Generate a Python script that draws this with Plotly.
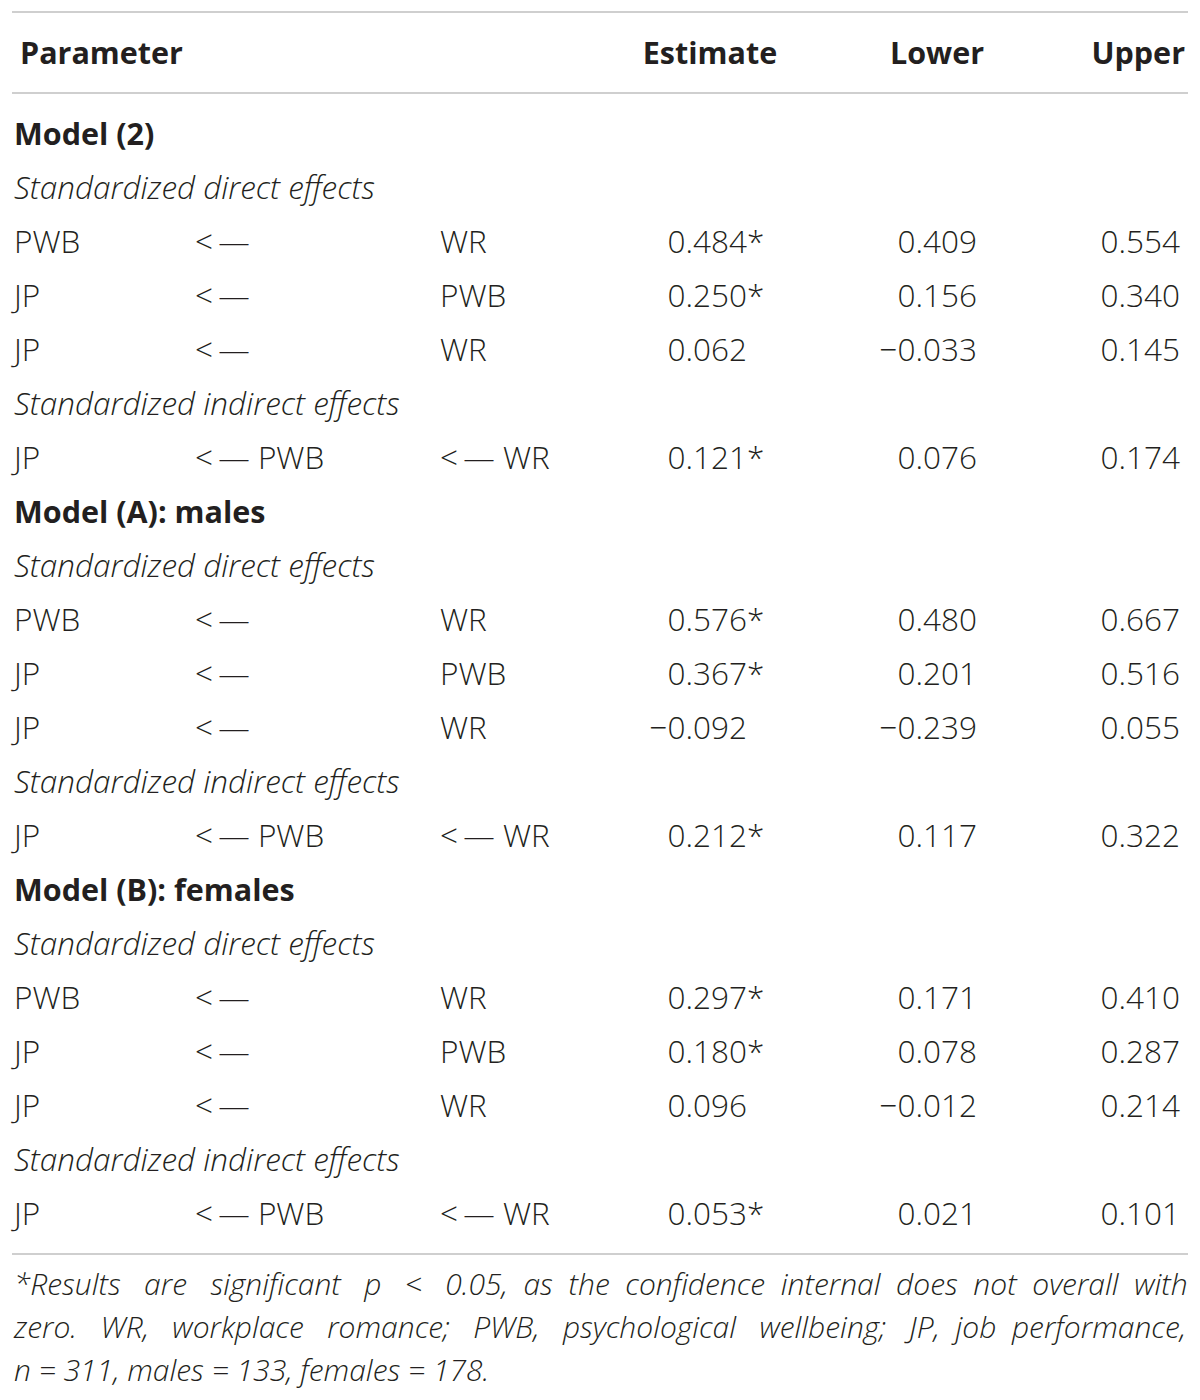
#!/usr/bin/env python3
"""
Table: standardized direct and indirect effects with confidence bounds
(Model 2, males, females), drawn as text marks on a pixel-sized axis.
"""

import plotly.graph_objects as go

# ---- table data ----
columns = ["Parameter", "Estimate", "Lower", "Upper"]
models = ["Model (2)", "Model (A): males", "Model (B): females"]
effect_types = ["Standardized direct effects", "Standardized indirect effects"]

# paths inside each model: outcome <- (via) <- predictor, and effect type index
outcome = ["PWB", "JP", "JP", "JP"]
via = ["", "", "", "PWB"]
predictor = ["WR", "PWB", "WR", "WR"]
path_type = [0, 0, 0, 1]

estimate = [
    [0.484, 0.250, 0.062, 0.121],
    [0.576, 0.367, -0.092, 0.212],
    [0.297, 0.180, 0.096, 0.053],
]
significant = [
    [True, True, False, True],
    [True, True, False, True],
    [True, True, False, True],
]
lower = [
    [0.409, 0.156, -0.033, 0.076],
    [0.480, 0.201, -0.239, 0.117],
    [0.171, 0.078, -0.012, 0.021],
]
upper = [
    [0.554, 0.340, 0.145, 0.174],
    [0.667, 0.516, 0.055, 0.322],
    [0.410, 0.287, 0.214, 0.101],
]

footnote = [
    "*Results are significant p < 0.05, as the confidence internal does not overall with",
    "zero. WR, workplace romance; PWB, psychological wellbeing; JP, job performance,",
    "n = 311, males = 133, females = 178.",
]
# extra spaces spread over each footnote line (justified paragraph)
footnote_pad = [18, 16, 0]

# ---- layout constants (pixels) ----
W, H = 1200, 1400
OFF = 8  # page body margin of the html file
FONT = "Open Sans, Liberation Sans, Arial, sans-serif"
INK = "#231f20"
RULE = "#cfcfcf"
BODY = 31.5
HEAD = 30.5
FOOT = 30
ROW0, STEP = 137, 54
X_PARAM, X_ARROW, X_PRED = 14, 195, 440
X_EST, X_LOW, X_UP = 747, 977, 1180


def fmt(v):
    s = f"{v:.3f}"
    return s.replace("-", "\u2212")


def justify(line, pad):
    words = line.split(" ")
    gaps = [" "] * (len(words) - 1)
    for k in range(pad):
        gaps[k % len(gaps)] += "\u00a0"
    out = words[0]
    for g, w in zip(gaps, words[1:]):
        out += g + w
    return out


# build rows
left_txt, left_y = [], []
bold_txt, bold_y = [], []
ital_txt, ital_y = [], []
arrow_txt, arrow_y = [], []
pred_txt, pred_y = [], []
est_txt, est_y, star_txt, star_y = [], [], [], []
low_txt, low_y, up_txt, up_y = [], [], [], []

ARROW = "<\u2009\u2014"
row = 0
for m, model in enumerate(models):
    bold_txt.append(model)
    bold_y.append(ROW0 + STEP * row)
    row += 1
    last_type = None
    for p in range(len(outcome)):
        if path_type[p] != last_type:
            ital_txt.append(effect_types[path_type[p]])
            ital_y.append(ROW0 + STEP * row)
            row += 1
            last_type = path_type[p]
        y = ROW0 + STEP * row
        left_txt.append(outcome[p])
        left_y.append(y)
        if via[p]:
            arrow_txt.append(ARROW + " " + via[p])
            pred_txt.append(ARROW + " " + predictor[p])
        else:
            arrow_txt.append(ARROW)
            pred_txt.append(predictor[p])
        arrow_y.append(y)
        pred_y.append(y)
        est_txt.append(fmt(estimate[m][p]))
        est_y.append(y)
        if significant[m][p]:
            star_txt.append("*")
            star_y.append(y)
        low_txt.append(fmt(lower[m][p]))
        low_y.append(y)
        up_txt.append(fmt(upper[m][p]))
        up_y.append(y)
        row += 1

fig = go.Figure()


def add_text(xs, ys, texts, pos, size=BODY, weight=300, style="normal", color=INK):
    fig.add_trace(go.Scatter(
        x=xs, y=ys, text=texts, mode="text", textposition=pos,
        textfont=dict(family=FONT, size=size, color=color, weight=weight, style=style),
        hoverinfo="skip", showlegend=False,
    ))


# header
add_text([20], [56], [columns[0]], "middle right", size=HEAD, weight=700)
add_text([710], [56], [columns[1]], "middle center", size=HEAD, weight=700)
add_text([984], [56], [columns[2]], "middle left", size=HEAD, weight=700)
add_text([1185], [56], [columns[3]], "middle left", size=HEAD, weight=700)

# body
add_text([X_PARAM] * len(bold_txt), bold_y, bold_txt, "middle right", size=HEAD, weight=700)
add_text([X_PARAM] * len(ital_txt), ital_y, ital_txt, "middle right", style="italic")
add_text([X_PARAM] * len(left_txt), left_y, left_txt, "middle right")
add_text([X_ARROW] * len(arrow_txt), arrow_y, arrow_txt, "middle right")
add_text([X_PRED] * len(pred_txt), pred_y, pred_txt, "middle right")
add_text([X_EST] * len(est_txt), est_y, est_txt, "middle left")
add_text([X_EST] * len(star_txt), star_y, star_txt, "middle right")
add_text([X_LOW] * len(low_txt), low_y, low_txt, "middle left")
add_text([X_UP] * len(up_txt), up_y, up_txt, "middle left")

# footnote
foot_txt = [justify(t, n) for t, n in zip(footnote, footnote_pad)]
add_text([14] * len(foot_txt), [1287 + 43 * i for i in range(len(foot_txt))], foot_txt,
         "middle right", size=FOOT, style="italic")

# rules
for y in (12, 93, 1254):
    fig.add_shape(type="line", x0=12, x1=1188, y0=y, y1=y,
                  line=dict(color=RULE, width=2), layer="below")

fig.update_layout(
    width=W, height=H,
    margin=dict(l=0, r=0, t=0, b=0),
    paper_bgcolor="white", plot_bgcolor="white",
    xaxis=dict(range=[OFF, W + OFF], visible=False, fixedrange=True),
    yaxis=dict(range=[H + OFF, OFF], visible=False, fixedrange=True),
)

fig.write_html("out.html")
